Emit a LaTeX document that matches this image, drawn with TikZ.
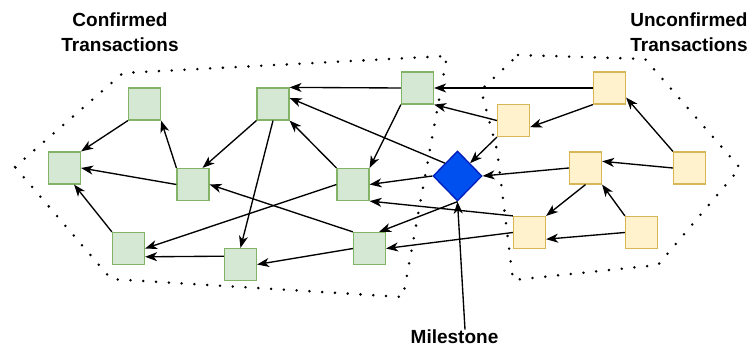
\documentclass[tikz,border=0pt]{standalone}
\usepackage{fontspec}
\setmainfont{Liberation Sans}
\usetikzlibrary{arrows.meta,shapes.geometric,calc}
\definecolor{gfill}{HTML}{D5E8D4}
\definecolor{gline}{HTML}{82B366}
\definecolor{yfill}{HTML}{FFF2CC}
\definecolor{yline}{HTML}{D6B656}
\definecolor{dfill}{HTML}{0050EF}
\definecolor{dline}{HTML}{001DBC}
\tikzset{
  tx/.style={draw, line width=1.2pt, minimum size=32pt, inner sep=0pt},
  gbox/.style={tx, fill=gfill, draw=gline},
  ybox/.style={tx, fill=yfill, draw=yline},
  mstone/.style={diamond, draw=dline, fill=dfill, line width=1.3pt,
    minimum width=49pt, minimum height=50pt, inner sep=0pt},
  edge/.style={line width=1.35pt, -{Stealth[length=12pt,width=9pt,inset=3.5pt]}},
  region/.style={line width=2.8pt, line cap=round, dash pattern=on 0pt off 12.8pt},
  lbl/.style={inner sep=0pt, align=center, font=\fontsize{19}{25}\selectfont\bfseries},
}
\begin{document}
\begin{tikzpicture}[x=1pt,y=-1pt]
\useasboundingbox (0,0) rectangle (750,347);

% dotted outlines of the two regions
\draw[region] (15,167) -- (123,73) -- (447,56) -- (403,297) -- (111,279) -- cycle;
\draw[region] (518,55) -- (645,59) -- (740,168) -- (658,265) -- (513,280)
  -- (497,150) -- (481,90) -- cycle;

% confirmed transactions
\node[gbox] (G1) at (144.5,104) {};
\node[gbox] (G2) at (64.5,168) {};
\node[gbox] (G3) at (273,104) {};
\node[gbox] (G4) at (193,184.5) {};
\node[gbox] (G5) at (128.5,248.5) {};
\node[gbox] (G6) at (240.5,264.5) {};
\node[gbox] (G7) at (353,184.5) {};
\node[gbox] (G8) at (369.5,248.5) {};
\node[gbox] (G9) at (417.5,88) {};

% milestone
\node[mstone] (D) at (457.5,176) {};

% unconfirmed transactions
\node[ybox] (Y1) at (609.5,88) {};
\node[ybox] (Y2) at (513.5,120.5) {};
\node[ybox] (Y3) at (585.5,168) {};
\node[ybox] (Y4) at (689.5,168) {};
\node[ybox] (Y5) at (529.5,232.5) {};
\node[ybox] (Y6) at (641.5,232.5) {};

% labels
\node[lbl, anchor=north] (ct) at (120,12.5) {Confirmed\\Transactions};
\node[lbl, anchor=north] (ut) at (689,12.5) {Unconfirmed\\Transactions};
\node[lbl, anchor=base] (ms) at (454.5,343.5) {Milestone};

% approvals among confirmed transactions
\draw[edge] (G1.south west) -- (G2.north east);
\draw[edge] (G4.west) -- (G2.east);
\draw[edge] (G5.north west) -- (G2.-60);
\draw[edge] (G4.north west) -- (G1.south east);
\draw[edge] (G3.south west) -- (G4.60);
\draw[edge] (G3.south) -- (G6.north);
\draw[edge] ($(G6.north west)!0.25!(G6.south west)$) -- ($(G5.north east)!0.75!(G5.south east)$);
\draw[edge] (G7.west) -- (G5.east);
\draw[edge] (G8.north west) -- (G4.east);
\draw[edge] (G8.west) -- (G6.east);
\draw[edge] (G7.north west) -- (G3.south east);
\draw[edge] (G9.west) -- (G3.north east);
\draw[edge] (G9.south west) -- (G7.north east);

% milestone approvals
\draw[edge] (D.north west) -- (G3.20);
\draw[edge] (D.west) -- (G7.east);
\draw[edge] (D.south) -- (G8.60);

% approvals from unconfirmed transactions
\draw[edge] (Y5.north west) -- (G7.south east);
\draw[edge] (Y5.west) -- (G8.east);
\draw[edge] (Y1.west) -- (G9.east);
\draw[edge] (Y2.west) -- (G9.south east);
\draw[edge] (Y2.south west) -- (D.north east);
\draw[edge] (Y1.south west) -- (Y2.-22);
\draw[edge] (Y4.north west) -- (Y1.-30);
\draw[edge] (Y4.west) -- (Y3.22);
\draw[edge] (Y3.west) -- (D.east);
\draw[edge] (Y3.south) -- (Y5.north east);
\draw[edge] (Y6.north west) -- (Y3.south east);
\draw[edge] (Y6.west) -- (Y5.-22);

% milestone pointer
\draw[edge] ($(ms.north)+(10.5,0)$) -- (D.south);
\end{tikzpicture}
\end{document}
